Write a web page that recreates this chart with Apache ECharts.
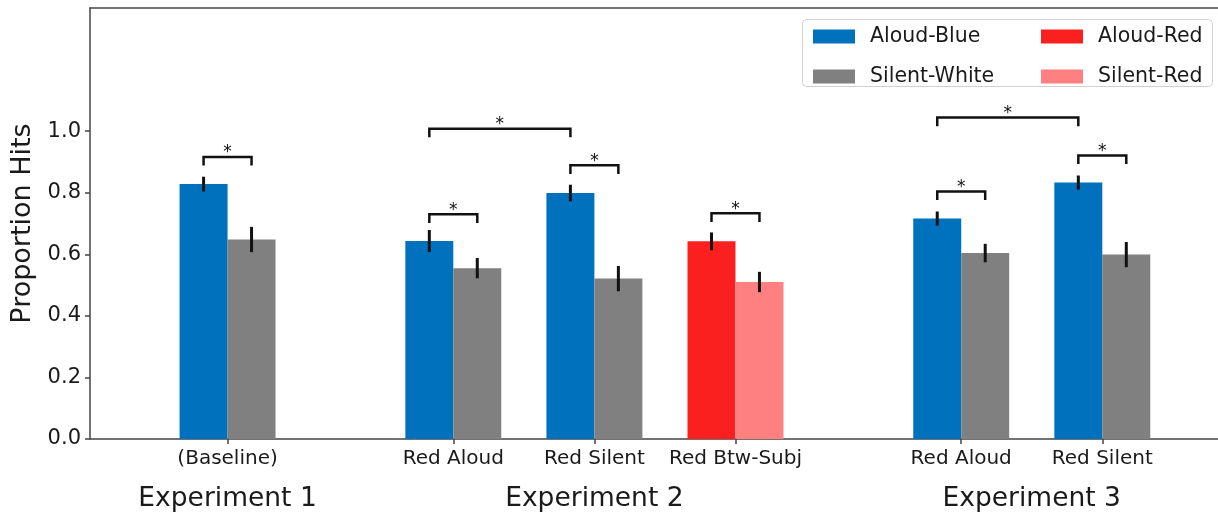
<!DOCTYPE html>
<html>
<head>
<meta charset="utf-8">
<script src="https://cdn.jsdelivr.net/npm/echarts@6/dist/echarts.min.js"></script>
<style>
    html, body { margin: 0; padding: 0; background: #fff; }
    #chart { width: 1218px; height: 515px; }
</style>
</head>
<body>
<div id="chart"></div>
<script>
    // x positions of each bar pair and the tick labels under them
    var groupPos = [0, 1.6, 2.6, 3.6, 5.2, 6.2];
    var groupLabels = ['(Baseline)', 'Red Aloud', 'Red Silent', 'Red Btw-Subj', 'Red Aloud', 'Red Silent'];
    var expPos = [0, 2.6, 5.7];
    var expLabels = ['Experiment 1', 'Experiment 2', 'Experiment 3'];

    // proportion hits and error (half length) per group
    var aloudBlue    = [0.828, 0.643, 0.799, null, 0.716, 0.833];
    var aloudBlueErr = [0.024, 0.036, 0.027, null, 0.023, 0.023];
    var silentWhite    = [0.648, 0.555, 0.521, null, 0.604, 0.599];
    var silentWhiteErr = [0.041, 0.033, 0.041, null, 0.030, 0.041];
    var aloudRed    = [null, null, null, 0.642, null, null];
    var aloudRedErr = [null, null, null, 0.029, null, null];
    var silentRed    = [null, null, null, 0.510, null, null];
    var silentRedErr = [null, null, null, 0.033, null, null];

    // significance brackets: [fromGroup, fromSide, toGroup, toSide, height]  side -1 = aloud, 1 = silent
    var brackets = [
        [0, -1, 0, 1, 0.916],
        [1, -1, 2, -1, 1.008],
        [1, -1, 1, 1, 0.730],
        [2, -1, 2, 1, 0.889],
        [3, -1, 3, 1, 0.733],
        [4, -1, 5, -1, 1.044],
        [4, -1, 4, 1, 0.804],
        [5, -1, 5, 1, 0.921]
    ];

    var barW = 0.34;
    var legDrop = 0.028;
    var yTicks = [0, 0.2, 0.4, 0.6, 0.8, 1.0];

    function toData(vals, errs) {
        var out = [];
        for (var i = 0; i < vals.length; i++) {
            if (vals[i] != null) out.push([groupPos[i], vals[i], errs[i]]);
        }
        return out;
    }

    function barItem(side) {
        return function (params, api) {
            var x = api.value(0), v = api.value(1), e = api.value(2);
            var x0 = side < 0 ? x - barW : x;
            var x1 = side < 0 ? x : x + barW;
            var tl = api.coord([x0, v]);
            var br = api.coord([x1, 0]);
            var c = x0 + barW / 2;
            var et = api.coord([c, v + e]);
            var eb = api.coord([c, v - e]);
            return {
                type: 'group',
                children: [
                    {type: 'rect', shape: {x: tl[0], y: tl[1], width: br[0] - tl[0], height: br[1] - tl[1]},
                        style: {fill: api.visual('color')}},
                    {type: 'line', shape: {x1: et[0], y1: et[1], x2: eb[0], y2: eb[1]},
                        style: {stroke: '#111', lineWidth: 3}}
                ]
            };
        };
    }

    function bracketItem(params, api) {
        var a = api.value(0), b = api.value(1), h = api.value(2);
        var p1 = api.coord([a, h - legDrop]);
        var p2 = api.coord([a, h]);
        var p3 = api.coord([b, h]);
        var p4 = api.coord([b, h - legDrop]);
        return {
            type: 'group',
            children: [
                {type: 'polyline', shape: {points: [p1, p2, p3, p4]},
                    style: {stroke: '#111', lineWidth: 2.5, fill: null}},
                {type: 'text', x: (p2[0] + p3[0]) / 2, y: p2[1] - 4,
                    style: {text: '*', fontSize: 17, fontFamily: 'DejaVu Sans', fill: '#111',
                        align: 'center', verticalAlign: 'middle'}}
            ]
        };
    }

    function barSeries(name, color, side, vals, errs) {
        return {
            name: name,
            type: 'custom',
            renderItem: barItem(side),
            itemStyle: {color: color},
            encode: {x: 0, y: 1},
            data: toData(vals, errs)
        };
    }

    var bracketData = brackets.map(function (b) {
        return [groupPos[b[0]] + b[1] * barW / 2, groupPos[b[2]] + b[3] * barW / 2, b[4]];
    });

    var chart = echarts.init(document.getElementById('chart'));
    chart.setOption({
        animation: false,
        textStyle: {fontFamily: 'DejaVu Sans'},
        grid: {left: 90, top: 8, width: 1130, height: 431},
        xAxis: [
            {
                type: 'value', min: -0.975, max: 7.02, position: 'bottom',
                splitLine: {show: false},
                axisLine: {onZero: false, lineStyle: {color: '#444', width: 1.5}},
                axisTick: {customValues: groupPos, length: 5, lineStyle: {color: '#444', width: 1.5}},
                axisLabel: {
                    customValues: groupPos, fontSize: 20, color: '#1a1a1a', margin: 10,
                    formatter: function (v) {
                        var i = groupPos.indexOf(v);
                        return i >= 0 ? groupLabels[i] : '';
                    }
                }
            },
            {
                type: 'value', min: -0.975, max: 7.02, position: 'bottom',
                splitLine: {show: false}, axisLine: {show: false, onZero: false}, axisTick: {show: false},
                axisLabel: {
                    customValues: expPos, fontSize: 26.5, color: '#1a1a1a', margin: 47,
                    formatter: function (v) {
                        var i = expPos.indexOf(v);
                        return i >= 0 ? expLabels[i] : '';
                    }
                }
            },
            {
                type: 'value', min: -0.975, max: 7.02, position: 'top',
                splitLine: {show: false},
                axisLine: {onZero: false, lineStyle: {color: '#444', width: 1.5}},
                axisTick: {show: false}, axisLabel: {show: false}
            }
        ],
        yAxis: {
            type: 'value', min: 0, max: 1.4, interval: 0.2,
            name: 'Proportion Hits', nameLocation: 'middle', nameGap: 53,
            nameTextStyle: {fontSize: 27, color: '#1a1a1a'},
            splitLine: {show: false},
            axisLine: {show: true, onZero: false, lineStyle: {color: '#444', width: 1.5}},
            axisTick: {show: true, customValues: yTicks, length: 5, lineStyle: {color: '#444', width: 1.5}},
            axisLabel: {
                customValues: yTicks, fontSize: 21, color: '#1a1a1a', margin: 9,
                formatter: function (v) { return v.toFixed(1); }
            }
        },
        legend: [
            {
                data: ['Aloud-Blue', 'Silent-White'], orient: 'vertical', left: 808, top: 21,
                icon: 'rect', itemWidth: 42, itemHeight: 14, itemGap: 19,
                textStyle: {fontSize: 20.5, color: '#1a1a1a', padding: [0, 0, 0, 10]},
                selectedMode: false
            },
            {
                data: ['Aloud-Red', 'Silent-Red'], orient: 'vertical', left: 1036, top: 21,
                icon: 'rect', itemWidth: 42, itemHeight: 14, itemGap: 19,
                textStyle: {fontSize: 20.5, color: '#1a1a1a', padding: [0, 0, 0, 10]},
                selectedMode: false
            }
        ],
        graphic: [
            {type: 'rect', left: 802, top: 19, shape: {width: 410, height: 67, r: 4},
                style: {fill: 'rgba(255,255,255,0.8)', stroke: '#d0d0d0', lineWidth: 1}, z: 0}
        ],
        series: [
            barSeries('Aloud-Blue', '#0072bd', -1, aloudBlue, aloudBlueErr),
            barSeries('Silent-White', '#808080', 1, silentWhite, silentWhiteErr),
            barSeries('Aloud-Red', '#fa2020', -1, aloudRed, aloudRedErr),
            barSeries('Silent-Red', '#ff8080', 1, silentRed, silentRedErr),
            {
                name: 'sig', type: 'custom', renderItem: bracketItem,
                encode: {x: [0, 1], y: 2}, data: bracketData, z: 5
            }
        ]
    });
</script>
</body>
</html>
